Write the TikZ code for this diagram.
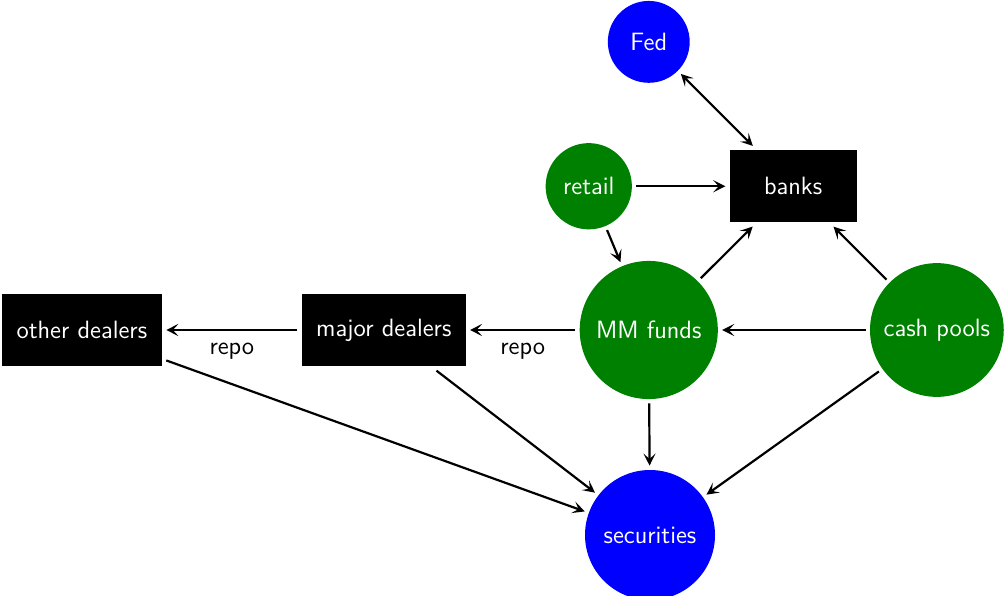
\documentclass[tikz,border=0pt]{standalone}
\usepackage{tikz}
\usetikzlibrary{arrows.meta}

\begin{document}
\begin{tikzpicture}[
      >={Stealth[length=5.5pt, width=5.5pt, inset=2.5pt]},
      Firm/.style={fill=black, text=white, minimum height=1.16cm, outer sep=2pt},
      Pool/.style={circle, fill=green!50!black, text=white, inner sep=0pt, outer sep=2pt},
      Asset/.style={circle, fill=blue, text=white, inner sep=0pt, outer sep=2pt},
      Flow/.style={->, line width=1pt},
      font=\sffamily\fontsize{11.4pt}{13.5pt}\selectfont,
      ]
      \useasboundingbox (0, 0) rectangle (16.08, -9.536);

      \node[Asset, minimum size=1.31cm] (F) at (10.38, -0.67) {Fed};
      \node[Pool, minimum size=1.38cm] (R) at (9.42, -2.98) {retail};
      \node[Firm, minimum width=2.03cm, minimum height=1.15cm] (B) at (12.69, -2.98) {banks};

      \node[Pool, minimum size=2.21cm] (M) at (10.38, -5.28) {MM funds};
      \node[Pool, minimum size=2.14cm] (C) at (14.99, -5.28) {cash pools};
      \node[Firm, minimum width=2.62cm] (MD) at (6.14, -5.28) {major dealers};
      \node[Firm, minimum width=2.56cm] (OD) at (1.31, -5.28) {other dealers};

      \node[Asset, minimum size=2.08cm] (S) at (10.4, -8.56) {securities};

      \draw[<->, line width=1pt] (F) -- (B);
      \draw[Flow] (R) -- (B);
      \draw[Flow] (R) -- (M);
      \draw[Flow] (M) -- (B);
      \draw[Flow] (C) -- (B);
      \draw[Flow] (C) -- (M);

      \draw[Flow] (M) -- (MD) node[midway,below=2pt] {repo};
      \draw[Flow] (MD) -- (OD) node[midway,below=2pt] {repo};

      \draw[Flow] (C) -- (S);
      \draw[Flow] (M) -- (S);
      \draw[Flow] (MD) -- (S);
      \draw[Flow] (OD) -- (S);
    \end{tikzpicture}
\end{document}
